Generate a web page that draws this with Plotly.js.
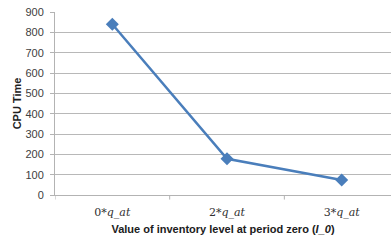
<!DOCTYPE html>
<html>
<head>
<meta charset="utf-8">
<script src="https://cdn.plot.ly/plotly-3.0.1.min.js"></script>
<style>html,body{margin:0;padding:0;background:#fff;}#chart{width:391px;height:240px;}</style>
</head>
<body>
<div id="chart"></div>
<script>
var categories = ["0*<i>q_at</i>", "2*<i>q_at</i>", "3*<i>q_at</i>"];
var cpuTime = [840, 178, 74];
var yTicks = [0, 100, 200, 300, 400, 500, 600, 700, 800, 900];

var trace = {
  x: [0, 1, 2],
  y: cpuTime,
  type: "scatter",
  mode: "lines+markers",
  line: {color: "#4A7EBB", width: 2.5},
  marker: {symbol: "diamond", size: 10, color: "#4A7EBB"},
  cliponaxis: false
};

var layout = {
  width: 391, height: 240,
  margin: {l: 55, r: 0, t: 12, b: 45},
  paper_bgcolor: "#ffffff", plot_bgcolor: "#ffffff",
  showlegend: false,
  font: {family: "Liberation Sans, Arial, sans-serif", size: 11, color: "#404040"},
  xaxis: {
    range: [-0.5, 2.43],
    tickmode: "array",
    tickvals: [0, 1, 2],
    ticktext: categories,
    showgrid: false,
    zeroline: false,
    showline: true, linecolor: "#b3b3b3", linewidth: 1,
    ticks: "",
    ticklabelstandoff: 7,
    tickfont: {family: "DejaVu Serif, Liberation Serif, serif", size: 11, color: "#303030"},
    title: {text: "<b>Value of inventory level at period zero (<i>I_0</i>)</b>", font: {family: "Liberation Sans, Arial, sans-serif", size: 11, color: "#202020"}, standoff: 7},
    fixedrange: true
  },
  yaxis: {
    range: [0, 900],
    tickmode: "array",
    tickvals: yTicks,
    ticktext: yTicks.map(String),
    showgrid: true, gridcolor: "#b8b8b8", gridwidth: 1,
    zeroline: false,
    showline: true, linecolor: "#b3b3b3", linewidth: 1,
    ticks: "outside", ticklen: 4, tickcolor: "#b3b3b3",
    ticklabelstandoff: 4,
    tickfont: {family: "Liberation Sans, Arial, sans-serif", size: 11, color: "#404040"},
    title: {text: "<b>CPU Time</b>", font: {family: "Liberation Sans, Arial, sans-serif", size: 11, color: "#202020"}, standoff: 1},
    fixedrange: true
  },
  shapes: [-0.5, 0.5, 1.5].map(function (b) {
    return {type: "line", xref: "x", yref: "paper", x0: b, x1: b, y0: 0, y1: -0.025,
            line: {color: "#b3b3b3", width: 1}};
  })
};

Plotly.newPlot("chart", [trace], layout, {displayModeBar: false, staticPlot: true});
</script>
</body>
</html>
